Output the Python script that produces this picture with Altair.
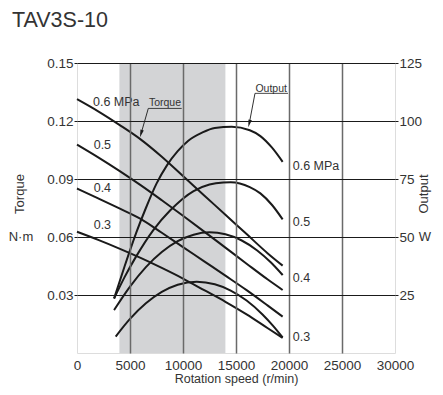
import altair as alt
import pandas as pd

# ---------------- data ----------------
pressures = ["0.6", "0.5", "0.4", "0.3"]

speed_torque = [0, 2000, 4000, 6000, 8000, 10000, 12000, 14000, 16000, 18000, 19400]
torque_06 = [0.1313, 0.1250, 0.1180, 0.1105, 0.1015, 0.0915, 0.0815, 0.0715, 0.0615, 0.0515, 0.0452]
torque_05 = [0.1078, 0.1012, 0.0942, 0.0868, 0.0790, 0.0710, 0.0628, 0.0545, 0.0462, 0.0380, 0.0326]
torque_04 = [0.0851, 0.0800, 0.0748, 0.0694, 0.0622, 0.0548, 0.0474, 0.0400, 0.0325, 0.0245, 0.0188]
torque_03 = [0.0627, 0.0585, 0.0540, 0.0492, 0.0440, 0.0385, 0.0325, 0.0265, 0.0200, 0.0128, 0.0078]

speed_out_06 = [3500, 4500, 5600, 6500, 7500, 8500, 9500, 10500, 11800, 13000, 14600, 16300, 17300, 18400, 19400]
output_06 = [23.5, 37.5, 52, 62.5, 73, 81, 87, 91.5, 95, 97, 97.5, 96, 93.5, 88.5, 82.4]
speed_out_05 = [3500, 4500, 5500, 7200, 8800, 11000, 12500, 13800, 14500, 16300, 17300, 18400, 19400]
output_05 = [23.5, 32.8, 41.0, 53, 61.5, 69.8, 72.6, 73.5, 73.6, 71.5, 68.8, 63.8, 57.6]
speed_out_04 = [3500, 5000, 6500, 8000, 9500, 11000, 12500, 14000, 15500, 17000, 18300, 19400]
output_04 = [18.5, 28.6, 37.0, 43.5, 48.2, 51.0, 52.0, 51.2, 48.6, 44.2, 39.0, 33.6]
speed_out_03 = [3650, 5000, 6500, 8000, 9500, 11300, 13000, 14500, 16000, 17500, 18500, 19400]
output_03 = [7.1, 14.7, 21.4, 26.3, 29.4, 30.7, 29.6, 26.9, 22.6, 16.6, 11.7, 6.7]

band_start = [4000]
band_end = [14000]

x_ticks = [0, 5000, 10000, 15000, 20000, 25000, 30000]
torque_ticks = [0.03, 0.06, 0.09, 0.12, 0.15]
output_ticks = [25, 50, 75, 100, 125]

left_labels = ["0.6 MPa", "0.5", "0.4", "0.3"]
left_label_rpm = [1510, 1575, 1575, 1575]
left_label_T = [0.1299, 0.1075, 0.0854, 0.0662]
right_labels = ["0.6 MPa", "0.5", "0.4", "0.3"]
right_label_rpm = [20350, 20350, 20350, 20350]
right_label_T = [0.0967, 0.0679, 0.0386, 0.0084]

note_text = ["Torque", "Output"]
note_rpm = [8300, 18320]
note_T = [0.1294, 0.1368]
underline_rpm = [6726, 16792]
underline_rpm2 = [9877, 19906]
underline_T = [0.1265, 0.1343]
leader_rpm2 = [6044, 16249]
leader_T2 = [0.11346, 0.11865]
arrow_angle = [196, 194]

# ---------------- tables ----------------
trows = []
for p, vals in zip(pressures, [torque_06, torque_05, torque_04, torque_03]):
    for s, v in zip(speed_torque, vals):
        trows.append({"rpm": s, "T": v, "p": p})
tdf = pd.DataFrame(trows)

orows = []
for p, sp, vals in zip(pressures,
                       [speed_out_06, speed_out_05, speed_out_04, speed_out_03],
                       [output_06, output_05, output_04, output_03]):
    for s, v in zip(sp, vals):
        orows.append({"rpm": s, "W": v, "p": p})
odf = pd.DataFrame(orows)

band_df = pd.DataFrame({"rpm": band_start, "rpm2": band_end})
llab = pd.DataFrame({"rpm": left_label_rpm, "T": left_label_T, "txt": left_labels})
rlab = pd.DataFrame({"rpm": right_label_rpm, "T": right_label_T, "txt": right_labels})
notes = pd.DataFrame({"rpm": note_rpm, "T": note_T, "txt": note_text})
under = pd.DataFrame({"rpm": underline_rpm, "rpm2": underline_rpm2, "T": underline_T, "T2": underline_T})
leader = pd.DataFrame({"rpm": underline_rpm, "rpm2": leader_rpm2, "T": underline_T, "T2": leader_T2})
heads = pd.DataFrame({"rpm": leader_rpm2, "T": leader_T2, "ang": arrow_angle})

FONT = "Liberation Sans"
INK = "#1a1a1a"
TXT = "#333333"

xscale = alt.Scale(domain=[0, 30000], nice=False, zero=False)
tscale = alt.Scale(domain=[0, 0.15], nice=False)
oscale = alt.Scale(domain=[0, 125], nice=False)

xaxis = alt.Axis(
    values=x_ticks, format="d", grid=True, gridColor="#6a6a6a", gridWidth=1.5,
    gridOpacity={"condition": {"test": "datum.value == 0 || datum.value == 30000", "value": 0}, "value": 1},
    tickSize=0, domain=False, labelFontSize=13.5, labelPadding=5, labelColor=TXT, labelFont=FONT,
    labelOverlap=False, labelFlush=False,
    title="Rotation speed (r/min)", titleFontSize=12.5, titleFontWeight="normal", titleFont=FONT,
    titleColor=TXT, titlePadding=1, zindex=1,
)
taxis = alt.Axis(
    values=torque_ticks, format=".2f", grid=True, gridColor=INK, gridWidth=1,
    tickSize=3, tickColor=INK, domain=False, labelFontSize=13.5, labelPadding=1, labelColor=TXT,
    labelFont=FONT, labelOverlap=False, title=None, zindex=1,
)
oaxis = alt.Axis(
    orient="right", values=output_ticks, grid=False, tickSize=3, tickColor=INK, domain=False,
    labelFontSize=13.5, labelPadding=1, labelColor=TXT, labelFont=FONT, labelOverlap=False, title=None,
)

X = alt.X("rpm:Q", scale=xscale, axis=xaxis)
Y = alt.Y("T:Q", scale=tscale, axis=taxis)

band = alt.Chart(band_df).mark_rect(color="#d3d4d6").encode(x=X, x2="rpm2:Q")

tlines = alt.Chart(tdf).mark_line(interpolate="monotone", color=INK, strokeWidth=2).encode(
    x=X, y=Y, detail="p:N")

ltxt = alt.Chart(llab).mark_text(align="left", baseline="middle", fontSize=12.5, font=FONT, color=TXT).encode(
    x=X, y=Y, text="txt:N")
rtxt = alt.Chart(rlab).mark_text(align="left", baseline="middle", fontSize=12.5, font=FONT, color=TXT).encode(
    x=X, y=Y, text="txt:N")
ntxt = alt.Chart(notes).mark_text(align="center", baseline="middle", fontSize=10.5, font=FONT, color=TXT).encode(
    x=X, y=Y, text="txt:N")
under_r = alt.Chart(under).mark_rule(color=INK, strokeWidth=0.8).encode(x=X, x2="rpm2:Q", y=Y, y2="T2:Q")
leader_r = alt.Chart(leader).mark_rule(color=INK, strokeWidth=0.9).encode(x=X, x2="rpm2:Q", y=Y, y2="T2:Q")
head_p = alt.Chart(heads).mark_point(shape="M0,-1L0.45,1L-0.45,1Z", filled=True, size=60, color=INK, opacity=1).encode(
    x=X, y=Y, angle=alt.Angle("ang:Q", scale=None))

side = pd.DataFrame({"txt": ["Torque", "N·m", "Output", "W"]})
t_title = alt.Chart(side).transform_filter("datum.txt == 'Torque'").mark_text(
    angle=270, align="center", baseline="middle", fontSize=13, font=FONT, color=TXT).encode(
    x=alt.value(-57), y=alt.value(131), text="txt:N")
t_unit = alt.Chart(side).transform_filter("datum.txt == 'N·m'").mark_text(
    align="center", baseline="middle", fontSize=13, font=FONT, color=TXT).encode(
    x=alt.value(-56), y=alt.value(174), text="txt:N")
o_title = alt.Chart(side).transform_filter("datum.txt == 'Output'").mark_text(
    angle=270, align="center", baseline="middle", fontSize=13, font=FONT, color=TXT).encode(
    x=alt.value(347), y=alt.value(131), text="txt:N")
o_unit = alt.Chart(side).transform_filter("datum.txt == 'W'").mark_text(
    align="center", baseline="middle", fontSize=13, font=FONT, color=TXT).encode(
    x=alt.value(348), y=alt.value(174), text="txt:N")

torque_group = alt.layer(band, tlines, ltxt, rtxt, ntxt, under_r, leader_r, head_p,
                         t_title, t_unit, o_title, o_unit)

olines = alt.Chart(odf).mark_line(interpolate="monotone", color=INK, strokeWidth=2).encode(
    x=X, y=alt.Y("W:Q", scale=oscale, axis=oaxis), detail="p:N")

chart = alt.layer(torque_group, olines).resolve_scale(y="independent").properties(
    width=318, height=290,
    autosize=alt.AutoSizeParams(type="none"),
    padding={"left": 69, "top": 55, "right": 40, "bottom": 34},
    title=alt.TitleParams("TAV3S-10", anchor="start", frame="group", dx=-65, offset=25,
                          fontSize=21.5, font=FONT, fontWeight="normal", color=TXT),
).configure_view(stroke=INK, strokeWidth=1).configure(background="white")

chart.save("out.html", embed_options={"renderer": "svg", "actions": False})
